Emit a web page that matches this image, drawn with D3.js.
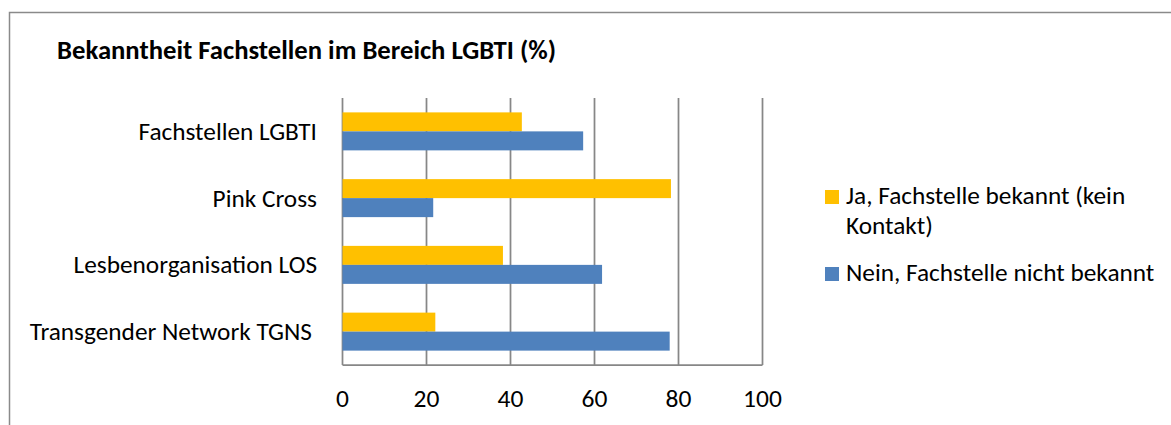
<!DOCTYPE html>
<html>
<head>
<meta charset="utf-8">
<script src="https://cdn.jsdelivr.net/npm/d3@7"></script>
<style>
  html, body { margin: 0; padding: 0; background: #fff; }
  svg text { font-family: Carlito, Calibri, Lato, sans-serif; fill: #000; }
</style>
</head>
<body>
<div id="chart"></div>
<script>
// ------------------------------------
// Data
// ------------------------------------
const categories = ["Fachstellen LGBTI", "Pink Cross", "Lesbenorganisation LOS", "Transgender Network TGNS"];
const seriesKeys = ["ja", "nein"];
const jaValues = [42.7, 78.2, 38.2, 22.1];
const neinValues = [57.3, 21.6, 61.8, 77.9];
const xTicks = [0, 20, 40, 60, 80, 100];
const legendLabels = [["Ja, Fachstelle bekannt (kein", "Kontakt)"], ["Nein, Fachstelle nicht bekannt"]];
const chartTitle = "Bekanntheit Fachstellen im Bereich LGBTI (%)";

const colors = { ja: "#FFC000", nein: "#4F81BD" };

// ------------------------------------
// Build chart
// ------------------------------------
const width = 1171;
const height = 425;

const svg = d3.select("#chart")
    .append("svg")
    .attr("width", width)
    .attr("height", height);

// outer frame (runs off right and bottom edge)
svg.append("rect")
    .attr("x", 9.5)
    .attr("y", 12.5)
    .attr("width", width + 20)
    .attr("height", height + 20)
    .attr("fill", "none")
    .attr("stroke", "#8a8a8a")
    .attr("stroke-width", 1.5);

svg.append("text")
    .attr("x", 57)
    .attr("y", 59)
    .style("font-size", "26.7px")
    .style("font-weight", "bold")
    .text(chartTitle);

const x = d3.scaleLinear().domain([0, 100]).range([342.5, 762.5]);
const y0 = d3.scaleBand().domain(categories).range([98, 365]);
const y1 = d3.scaleBand().domain(seriesKeys).range([0, y0.bandwidth()]).paddingOuter(0.757);

// gridlines
svg.append("g")
    .selectAll("line")
    .data(xTicks)
    .join("line")
    .attr("x1", d => x(d))
    .attr("x2", d => x(d))
    .attr("y1", 98)
    .attr("y2", 365)
    .attr("stroke", "#878787")
    .attr("stroke-width", 1.75);

const rows = categories.map((c, i) => ({ cat: c, ja: jaValues[i], nein: neinValues[i] }));

// bars
svg.append("g")
    .selectAll("g")
    .data(rows)
    .join("g")
    .attr("transform", d => `translate(0,${y0(d.cat)})`)
    .selectAll("rect")
    .data(d => seriesKeys.map(k => ({ key: k, value: d[k] })))
    .join("rect")
    .attr("x", x(0))
    .attr("y", d => y1(d.key))
    .attr("width", d => x(d.value) - x(0))
    .attr("height", y1.bandwidth())
    .attr("fill", d => colors[d.key]);

// bottom axis line
svg.append("line")
    .attr("x1", x(0))
    .attr("x2", x(100))
    .attr("y1", 365)
    .attr("y2", 365)
    .attr("stroke", "#878787")
    .attr("stroke-width", 1.75);

// x tick labels
svg.append("g")
    .selectAll("text")
    .data(xTicks)
    .join("text")
    .attr("x", d => x(d))
    .attr("y", 407)
    .attr("text-anchor", "middle")
    .style("font-size", "25.5px")
    .text(d => d);

// category labels
svg.append("g")
    .selectAll("text")
    .data(categories)
    .join("text")
    .attr("x", (d, i) => i === 3 ? 312 : 317)
    .attr("y", d => y0(d) + y0.bandwidth() / 2 + 8.5)
    .attr("text-anchor", "end")
    .style("font-size", "25.3px")
    .text(d => d);

// legend
const legendY = [190, 267];
const legend = svg.append("g")
    .selectAll("g")
    .data(seriesKeys)
    .join("g")
    .attr("transform", (d, i) => `translate(825,${legendY[i]})`);

legend.append("rect")
    .attr("width", 14)
    .attr("height", 14)
    .attr("fill", d => colors[d]);

legend.append("text")
    .attr("x", 21)
    .attr("y", 14)
    .style("font-size", "25.3px")
    .selectAll("tspan")
    .data((d, i) => legendLabels[i])
    .join("tspan")
    .attr("x", 21)
    .attr("dy", (d, j) => j === 0 ? 0 : 30)
    .text(d => d);
</script>
</body>
</html>
